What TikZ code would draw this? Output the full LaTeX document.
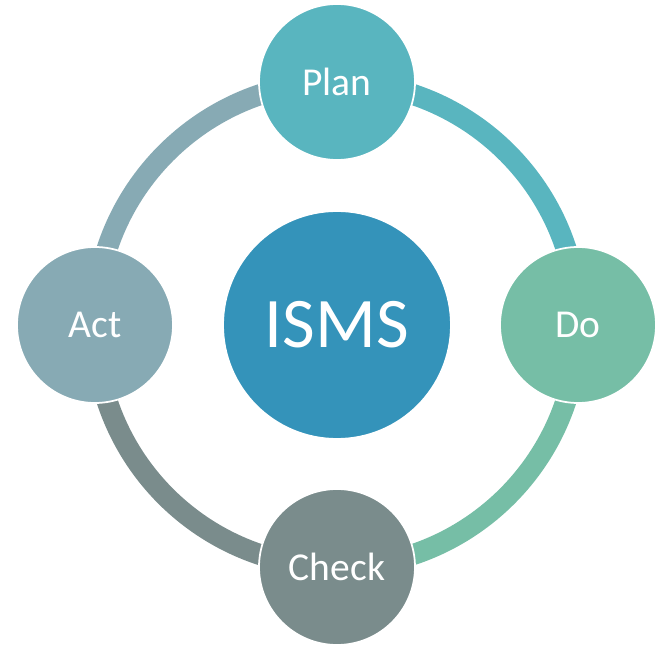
\documentclass[tikz,border=0pt]{standalone}
\usepackage{fontspec}
\setmainfont{Carlito}
\usepackage{tikz}
\usetikzlibrary{backgrounds}

\definecolor{planc}{HTML}{59B5BF}
\definecolor{doc}{HTML}{76BEA6}
\definecolor{checkc}{HTML}{7A8C8C}
\definecolor{actc}{HTML}{87AAB4}
\definecolor{ismsc}{HTML}{3493BA}

\begin{document}
\begin{tikzpicture}[
    x=0.02cm, y=0.02cm,
    phase/.style={circle, draw=white, line width=1pt, minimum size=3.12cm, inner sep=0pt, text=white, font=\fontsize{22.5}{26}\selectfont},
    hub/.style={phase, minimum size=4.56cm, font=\fontsize{40.5}{44}\selectfont},
    ring/.style={line width=0.42cm}
]
\useasboundingbox (-337,-323) rectangle (318,325);

% Center
\node[hub, fill=ismsc] (isms) at (0,0) {ISMS};

% PDCA phases
\node[phase, fill=planc] (plan) at (0,243) {Plan};
\node[phase, fill=doc] (do) at (241,0) {Do};
\node[phase, fill=checkc] (check) at (0,-242) {Check};
\node[phase, fill=actc] (act) at (-242,0) {Act};

% Ring
\begin{scope}[on background layer]
\draw[ring, planc] (plan.center) to[bend left=45] (do.center);
\draw[ring, doc] (do.center) to[bend left=45] (check.center);
\draw[ring, checkc] (check.center) to[bend left=45] (act.center);
\draw[ring, actc] (act.center) to[bend left=45] (plan.center);
\end{scope}

\end{tikzpicture}
\end{document}
